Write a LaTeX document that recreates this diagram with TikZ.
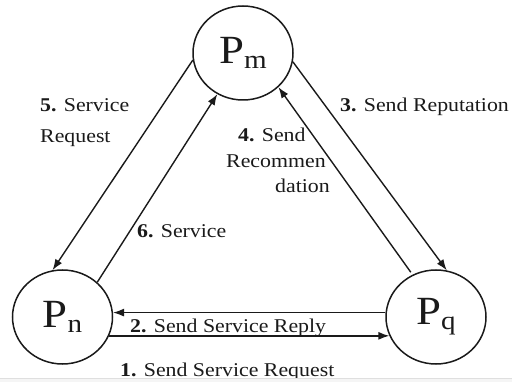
\documentclass[tikz,border=0pt]{standalone}
\usepackage{fontspec}
\setmainfont[FakeStretch=1.12]{Liberation Serif}
\usetikzlibrary{arrows.meta,shapes.geometric}
\definecolor{ink}{HTML}{1A1A1A}
\newcommand\peerlab[1]{\fontsize{40}{40}\selectfont P\raisebox{-5pt}{\fontsize{26}{26}\selectfont #1}}
\begin{document}
\begin{tikzpicture}[x=1pt,y=-1pt,
  peer/.style={ellipse,draw=ink,line width=1.5pt,minimum width=100pt,minimum height=94pt,inner sep=0pt,text=ink},
  arr/.style={draw=ink,line width=1.4pt,-{Latex[length=11pt,width=8pt]}},
  lbl/.style={anchor=base west,inner sep=0pt,text=ink,font=\fontsize{19.5}{23}\selectfont}]
\useasboundingbox (0,0) rectangle (512,382);
\fill[white] (0,0) rectangle (512,382);
% peers
\node[peer] (Pm) at (243,53) {\peerlab{m}};
\node[peer] (Pn) at (62.5,317) {\peerlab{n}};
\node[peer] (Pq) at (436,317) {\peerlab{q}};
% connectors
\draw[arr] (Pm.188) -- (Pn.102);
\draw[arr] (Pn.45) -- (Pm.238);
\draw[arr,shorten <=3pt] (Pq.119) -- (Pm.316);
\draw[arr] (Pm.350) -- (Pq.77);
\draw[arr] (Pq.175) -- (Pn.5);
\draw[arr] (Pn.338) -- (Pq.202);
% labels
\node[lbl] (l5a) at (40,112) {\textbf{5.} Service};
\node[lbl] (l5b) at (40,143) {Request};
\node[lbl] (l3) at (340,112) {\textbf{3.} Send Reputation};
\node[lbl] (l4a) at (238,142) {\textbf{4.} Send};
\node[lbl] (l4b) at (226,168) {Recommen};
\node[lbl] (l4c) at (275,193) {dation};
\node[lbl] (l6) at (137,238) {\textbf{6.} Service};
\node[lbl] (l2) at (130,333) {\textbf{2.} Send Service Reply};
\node[lbl] (l1) at (120,376.5) {\textbf{1.} Send Service Request};
% bottom edge band
\fill[gray!8] (0,378) rectangle (512,382);
\draw[gray!25,line width=0.6pt] (0,378) -- (512,378);
\end{tikzpicture}
\end{document}
